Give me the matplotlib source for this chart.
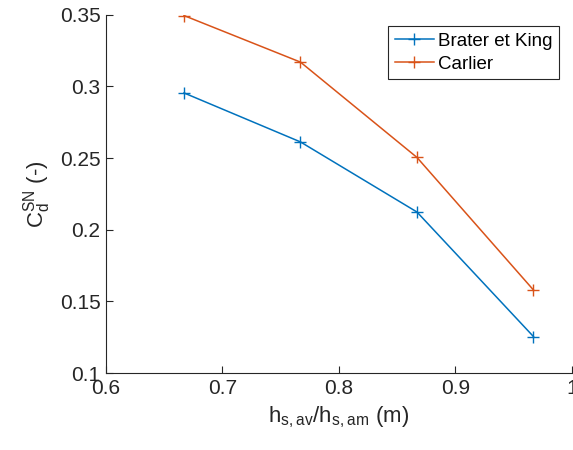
import numpy as np
import matplotlib.pyplot as plt

plt.rcParams['font.family'] = ['Liberation Sans', 'DejaVu Sans']
plt.rcParams['mathtext.fontset'] = 'custom'
plt.rcParams['mathtext.rm'] = 'Liberation Sans'

# data
ratio = [0.667, 0.767, 0.867, 0.967]
brater_king = [0.2955, 0.2613, 0.2124, 0.1255]
carlier = [0.3495, 0.3170, 0.2505, 0.1580]

blue = (0, 0.447, 0.741)
orange = (0.85, 0.325, 0.098)
grey = '#262626'

fig = plt.figure(figsize=(5.73, 4.5), dpi=100)
ax = fig.add_axes([0.185, 0.171, 0.813, 0.796])

ax.plot(ratio, brater_king, '-+', color=blue, lw=1.1, ms=8, mew=1, label='Brater et King')
ax.plot(ratio, carlier, '-+', color=orange, lw=1.1, ms=8, mew=1, label='Carlier')

ax.set_xlim(0.6, 1.0)
ax.set_ylim(0.1, 0.35)
ax.set_xticks([0.6, 0.7, 0.8, 0.9, 1.0])
ax.set_xticklabels(['0.6', '0.7', '0.8', '0.9', '1'])
ax.set_yticks([0.1, 0.15, 0.2, 0.25, 0.3, 0.35])
ax.set_yticklabels(['0.1', '0.15', '0.2', '0.25', '0.3', '0.35'])

for s in ['top', 'right']:
    ax.spines[s].set_visible(False)
for s in ['left', 'bottom']:
    ax.spines[s].set_color(grey)
    ax.spines[s].set_linewidth(0.8)
ax.tick_params(direction='in', length=5, width=0.8, colors=grey, labelsize=15, pad=4)

ax.set_xlabel(r'$\mathregular{h_{s,av}/h_{s,am}}$ (m)', fontsize=16, color=grey, labelpad=5)
ax.set_ylabel(r'$\mathregular{C_d^{SN}}$ (-)', fontsize=16, color=grey, labelpad=5)

leg = ax.legend(loc='upper right', bbox_to_anchor=(0.972, 0.968), fontsize=13.5,
                fancybox=False, framealpha=1, edgecolor=grey, borderpad=0.35,
                handlelength=2.1, handletextpad=0.2, labelspacing=0.3, borderaxespad=0)
leg.get_frame().set_linewidth(0.8)

fig.savefig('out.png', dpi=100)
